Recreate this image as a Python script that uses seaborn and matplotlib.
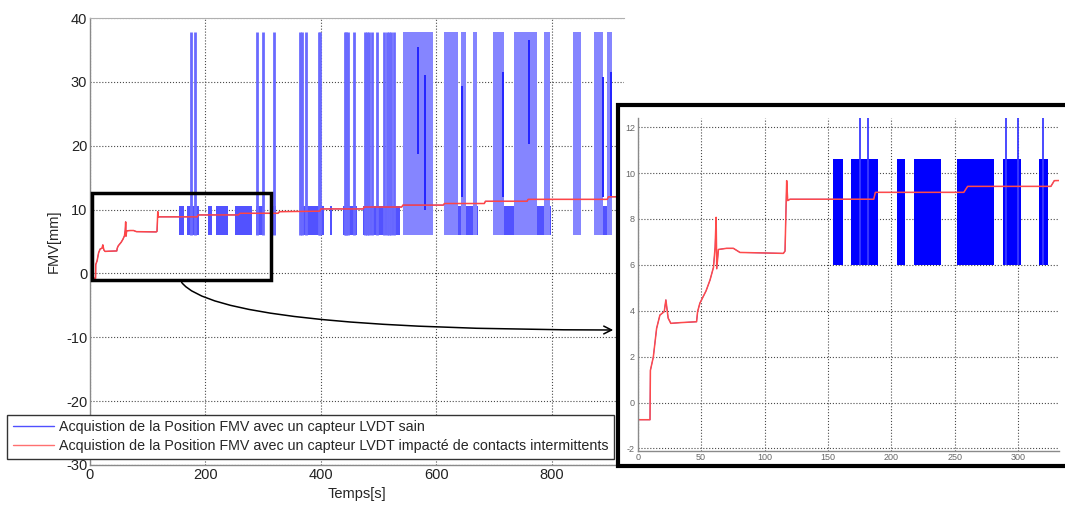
import matplotlib
matplotlib.use("Agg")
import matplotlib.pyplot as plt
import matplotlib.patches as patches
from matplotlib.lines import Line2D
import pandas as pd
import seaborn as sns

# baseline position (red = impacted sensor, blue sits under it)
base_t = [0, 0.3, 9.7, 10, 12.3, 14.9, 17.5, 20.9, 22.2, 24, 26.1, 33.2, 46.4, 47.2,
          49, 53.9, 57, 59.7, 61, 61.8, 62.3, 63.6, 70, 75.4, 80.6, 114.8, 116.1,
          117.4, 118.2, 120, 186, 187.3, 257, 260, 325.6, 328.3, 398, 400, 473, 475,
          540, 542, 612, 614, 683, 685, 757, 759, 896, 898, 925]
base_y = [-1.5, -0.75, -0.75, 1.4, 1.98, 3.23, 3.81, 3.96, 4.47, 3.68, 3.45, 3.48, 3.52,
          3.96, 4.33, 4.87, 5.34, 5.89, 6.76, 8.07, 5.83, 6.67, 6.72, 6.72, 6.54, 6.5,
          6.6, 9.67, 8.8, 8.86, 8.86, 9.16, 9.16, 9.42, 9.42, 9.67, 9.75, 10.1, 10.1,
          10.4, 10.4, 10.7, 10.7, 10.95, 10.95, 11.3, 11.3, 11.6, 11.6, 12.0, 12.0]

# bursts of the blue signal between low and high level
band_start = [154, 168, 204, 218, 252, 288, 316, 363, 415, 438, 473, 543, 614, 698, 837, 873]
band_end = [162, 189, 211, 239, 281, 302, 323, 406, 420, 462, 537, 595, 672, 798, 851, 905]
band_low = 6.0
band_high = 10.6

# spikes of the blue signal up to the saturation level
spike_t = [175.5, 181.5, 290, 300, 319.5, 363, 367, 374, 396, 398, 441, 444, 447, 457,
           476, 480, 484, 488, 498, 510, 514, 518, 522, 527]
block_start = [542, 614, 643, 663, 698, 734, 787, 837, 873, 896]
block_end = [594, 637, 651, 671, 717, 774, 797, 851, 889, 904]
spike_top = 37.8

# darker partial excursions inside the saturated blocks
dark_t = [568, 580, 644, 716, 760, 888, 903]
dark_top = [35.5, 31.0, 29.4, 31.5, 36.6, 30.8, 31.5]
dark_bottom = [18.7, 10.0, 12.0, 12.0, 20.2, 12.0, 12.0]

labels = ["Acquistion de la Position FMV avec un capteur LVDT sain",
          "Acquistion de la Position FMV avec un capteur LVDT impacté de contacts intermittents"]

sns.set_style("white")
plt.rcParams["font.family"] = ["Liberation Sans", "DejaVu Sans"]
plt.rcParams["axes.unicode_minus"] = False

df = pd.DataFrame({"t": base_t, "y": base_y})

fig = plt.figure(figsize=(10.65, 5.07), dpi=100)
W, H = 1065, 507

def style_axes(ax, fs, col):
    ax.grid(True, linestyle=":", color="#4a4a4a", linewidth=0.8)
    for s in ["top", "right"]:
        ax.spines[s].set_visible(False)
    for s in ["left", "bottom"]:
        ax.spines[s].set_color("#8a8a8a")
        ax.spines[s].set_linewidth(1)
    ax.tick_params(direction="in", length=3, color="#8a8a8a", labelsize=fs, labelcolor=col, pad=2)

# main axes
ax = fig.add_axes([90 / W, 1 - 465 / H, (624 - 90) / W, (465 - 18) / H])
for s, e in zip(band_start, band_end):
    ax.fill_between([s, e], band_low, band_high, color="#5252ff", lw=0)
for s, e in zip(block_start, block_end):
    ax.fill_between([s, e], band_low, spike_top, color="#8585ff", lw=0)
ax.vlines(spike_t, band_low, spike_top, color="#6a6aff", lw=2.0)
ax.vlines(dark_t, dark_bottom, dark_top, color="#2424ff", lw=1.4)
sns.lineplot(data=df, x="t", y="y", ax=ax, color="#3030ff", lw=0.6, estimator=None, sort=False)
sns.lineplot(data=df, x="t", y="y", ax=ax, color="#ff4545", lw=1.1, estimator=None, sort=False)
ax.set_xlim(0, 925)
ax.set_ylim(-30, 40)
ax.set_xticks([0, 200, 400, 600, 800])
ax.set_yticks(range(-30, 41, 10))
style_axes(ax, 10.5, "#222222")
ax.spines["top"].set_visible(True)
ax.spines["top"].set_color("#b0b0b0")
ax.set_xlabel("Temps[s]", fontsize=10.5, labelpad=4)
ax.set_ylabel("FMV[mm]", fontsize=10.5, labelpad=4)

# zoom frame on main plot
ax.add_patch(patches.Rectangle((3, -1.04), 310, 13.64, fill=False, ec="black", lw=2.5, zorder=5))
ax.annotate("", xy=(616 / W, (H - 330) / H), xycoords="figure fraction",
            xytext=(156, -1.04), textcoords="data",
            arrowprops=dict(arrowstyle="->", color="black", lw=1.1,
                            connectionstyle="angle3,angleA=-60,angleB=0", mutation_scale=14),
            annotation_clip=False)

# inset frame
fig.add_artist(patches.Rectangle((618 / W, (H - 466) / H), 460 / W, 361 / H,
                                 transform=fig.transFigure, fc="white", ec="black", lw=3, zorder=1))

axi = fig.add_axes([637.7 / W, 1 - 450.7 / H, (1059 - 637.7) / W, (450.7 - 118) / H], zorder=3)
axi.patch.set_alpha(0)
for s, e in zip(band_start, band_end):
    axi.fill_between([s, e], band_low, band_high, color="#0000ff", lw=0)
axi.vlines(spike_t, band_low, spike_top, color="#3a3aff", lw=1.3)
sns.lineplot(data=df, x="t", y="y", ax=axi, color="#3030ff", lw=0.6, estimator=None, sort=False)
sns.lineplot(data=df, x="t", y="y", ax=axi, color="#ff4a4a", lw=1.1, estimator=None, sort=False)
axi.set_xlim(0, 332)
axi.set_ylim(-2.1, 12.4)
axi.set_xticks(range(0, 301, 50))
axi.set_yticks(range(-2, 13, 2))
style_axes(axi, 6.5, "#666666")
axi.set_xlabel("")
axi.set_ylabel("")

# legend
handles = [Line2D([], [], color="#5050ff", lw=1), Line2D([], [], color="#ff7070", lw=1)]
fig.legend(handles, labels, loc="lower left", bbox_to_anchor=(7 / W, (H - 459) / H),
           fontsize=10.3, frameon=True, fancybox=False, edgecolor="#333333", framealpha=1,
           handlelength=2.9, handletextpad=0.35, borderpad=0.4, labelspacing=0.35,
           borderaxespad=0)

fig.savefig("out.png", dpi=100)
